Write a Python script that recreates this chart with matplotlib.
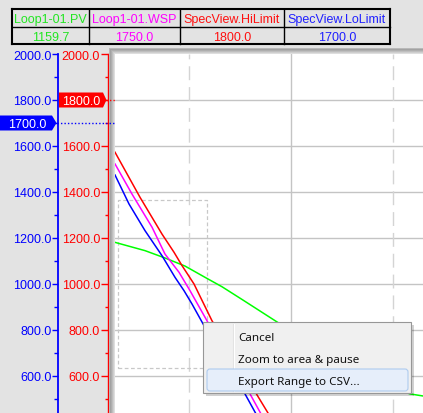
import matplotlib
matplotlib.use("Agg")
import matplotlib.pyplot as plt
from matplotlib.patches import Rectangle, Polygon, FancyBboxPatch
from matplotlib.lines import Line2D
from matplotlib.ticker import MultipleLocator, FormatStrFormatter
from matplotlib.transforms import IdentityTransform, blended_transform_factory

# -----------------------------
# Data
# -----------------------------
tag_names = ["Loop1-01.PV", "Loop1-01.WSP", "SpecView.HiLimit", "SpecView.LoLimit"]
tag_values = [1159.7, 1750.0, 1800.0, 1700.0]
tag_colors = ["#22e622", "#ff00ff", "#ff1010", "#2020ff"]

# time in seconds from left edge of the trend
pv_t = [0, 30, 50, 70, 90, 107, 128, 162, 225, 265, 295, 308]
pv_v = [1181, 1145, 1113, 1078, 1029, 988, 930, 835, 657, 570, 522, 513]

wsp_t = [0, 17, 37, 50, 64, 75, 92, 135, 145, 157]
wsp_v = [1522, 1391, 1247, 1130, 1051, 971, 840, 522, 443, 350]

hi_t = [0, 25, 47, 59, 67, 79, 97, 153, 165]
hi_v = [1573, 1377, 1217, 1138, 1080, 1000, 840, 439, 348]

lo_t = [0, 14, 30, 47, 60, 69, 77, 89, 130, 140, 152]
lo_v = [1474, 1348, 1232, 1123, 1029, 971, 913, 819, 522, 443, 350]

hi_limit = 1800.0
lo_limit = 1700.0

# zoom selection box
sel_t = (3, 92)
sel_v = (635, 1365)

menu_items = ["Cancel", "Zoom to area & pause", "Export Range to CSV..."]

y_min, y_max = 439, 2000
t_max = 308
grid_t = [74, 176, 278]

# -----------------------------
# Setup
# -----------------------------
W, H = 423, 414
BG = "#e3e3e3"
BLUE = "#0000ff"
RED = "#ff0000"
plt.rcParams["font.family"] = ["Liberation Sans", "DejaVu Sans"]

fig = plt.figure(figsize=(W / 100, H / 100), dpi=100, facecolor=BG)
PX = IdentityTransform()


def px(x, y):
    # top-origin pixel -> display coords
    return (x, H - y)


def rect(x0, y0, x1, y1, **kw):
    r = Rectangle(px(x0, y1), x1 - x0, y1 - y0, transform=PX, **kw)
    fig.add_artist(r)
    return r


def hline(x0, x1, y, **kw):
    fig.add_artist(Line2D([x0, x1], [H - y, H - y], transform=PX, **kw))


def vline(x, y0, y1, **kw):
    fig.add_artist(Line2D([x, x], [H - y0, H - y1], transform=PX, **kw))


# -----------------------------
# Trend area
# -----------------------------
ax = fig.add_axes([115 / W, 0, (W - 115) / W, (H - 55) / H])
ax.set_facecolor("white")
ax.set_xlim(0, t_max)
ax.set_ylim(y_min, y_max)
for s in ax.spines.values():
    s.set_visible(False)
ax.set_xticks([])
ax.set_yticks([])

for v in range(600, 2000, 200):
    ax.axhline(v, color="#c4c4c4", lw=1.0, zorder=1)
for i, t in enumerate(grid_t):
    if i % 2:
        ax.axvline(t, color="#c4c4c4", lw=1.0, zorder=1)
    else:
        ax.axvline(t, color="#d4d4d4", lw=1.0, ls=(0, (10, 5)), zorder=1)

ax.add_patch(Rectangle((sel_t[0], sel_v[0]), sel_t[1] - sel_t[0], sel_v[1] - sel_v[0],
                       fill=False, ec="#c8c8c8", lw=0.9, ls=(0, (3, 2)), zorder=2))

ax.plot(pv_t, pv_v, color="#00ff00", lw=1.1, zorder=3)
ax.plot(wsp_t, wsp_v, color="#ff00ff", lw=1.1, zorder=3)
ax.plot(hi_t, hi_v, color=RED, lw=1.1, zorder=3)
ax.plot(lo_t, lo_v, color=BLUE, lw=1.1, zorder=3)

# sunken bevel around the trend
bevel = ["#b8b8b8", "#a2a2a2", "#aeaeae", "#bebebe", "#cecece", "#dedede"]
for i, c in enumerate(bevel):
    rect(109 + i, 49 + i, 110 + i, H, fc=c, ec="none", zorder=1)
    rect(109 + i, 49 + i, W, 50 + i, fc=c, ec="none", zorder=1)

# -----------------------------
# Scales
# -----------------------------
def make_scale(x, color, major_len, minor_len, lw):
    a = fig.add_axes([x / W, 0, 0.0001, (H - 55) / H])
    a.set_ylim(y_min, y_max)
    a.patch.set_visible(False)
    for side in ["top", "right", "bottom"]:
        a.spines[side].set_visible(False)
    a.spines["left"].set_color(color)
    a.spines["left"].set_linewidth(lw)
    a.set_xticks([])
    a.yaxis.set_major_locator(MultipleLocator(200))
    a.yaxis.set_minor_locator(MultipleLocator(100))
    a.yaxis.set_major_formatter(FormatStrFormatter("%.1f"))
    a.tick_params(which="major", length=major_len, width=1, color=color,
                  pad=0.3, labelcolor=color, labelsize=9)
    a.tick_params(which="minor", length=minor_len, width=1, color=color)
    return a


make_scale(58, BLUE, 4.3, 2.9, 1.3)
make_scale(107.5, RED, 5.0, 2.2, 1.0)

# limit markers
yc_hi = ax.transData.transform((0, hi_limit))[1]
yc_lo = ax.transData.transform((0, lo_limit))[1]
blend = blended_transform_factory(PX, ax.transData)
fig.add_artist(Line2D([106, 115], [hi_limit, hi_limit], transform=blend,
                      color=RED, lw=1, ls=(0, (1, 1.5)), zorder=4))
fig.add_artist(Line2D([57, 115], [lo_limit, lo_limit], transform=blend,
                      color=BLUE, lw=1, ls=(0, (1, 1.5)), zorder=4))

fig.add_artist(Polygon([(59, yc_hi - 7.5), (103, yc_hi - 7.5), (106.5, yc_hi),
                        (103, yc_hi + 7.5), (59, yc_hi + 7.5)],
                       transform=PX, fc=RED, ec="none", zorder=5))
fig.text(81, yc_hi, f"{hi_limit:.1f}", transform=PX, color="white", fontsize=9,
         ha="center", va="center_baseline", zorder=6)

fig.add_artist(Polygon([(0, yc_lo - 7.5), (52, yc_lo - 7.5), (56.5, yc_lo),
                        (52, yc_lo + 7.5), (0, yc_lo + 7.5)],
                       transform=PX, fc=BLUE, ec="none", zorder=5))
fig.text(27, yc_lo, f"{lo_limit:.1f}", transform=PX, color="white", fontsize=9,
         ha="center", va="center_baseline", zorder=6)

# -----------------------------
# Value table
# -----------------------------
cols = [12, 89, 180, 284, 390]
t_top, t_mid, t_bot = 10, 27.5, 45
hline(cols[0], cols[-1], t_top, color="black", lw=1.5)
hline(cols[0], cols[-1], t_mid, color="black", lw=1.0)
hline(cols[0], cols[-1], t_bot, color="black", lw=1.5)
for i, c in enumerate(cols):
    vline(c, t_top, t_bot, color="black", lw=1.5 if i in (0, len(cols) - 1) else 1.0)

for i, (name, val, col) in enumerate(zip(tag_names, tag_values, tag_colors)):
    xc = (cols[i] + cols[i + 1]) / 2
    fig.text(xc, H - (t_top + t_mid) / 2, name, transform=PX, color=col,
             fontsize=9, ha="center", va="center_baseline")
    fig.text(xc, H - (t_mid + t_bot) / 2, f"{val:.1f}", transform=PX, color=col,
             fontsize=9, ha="center", va="center_baseline")

# -----------------------------
# Context menu
# -----------------------------
rect(206, 326, 414, 397, fc="#000000", ec="none", alpha=0.18, zorder=9)
rect(203, 323, 411, 394, fc="#f0f0f0", ec="#979797", lw=0.8, zorder=10)
vline(233, 325, 392, color="#e2e2e2", lw=0.8, zorder=11)
vline(234, 325, 392, color="#ffffff", lw=0.8, zorder=11)
hl = FancyBboxPatch(px(207, 392), 201, 22, boxstyle="round,pad=0,rounding_size=3",
                    transform=PX, fc="#e6eefa", ec="#aecbef", lw=0.8, zorder=11)
fig.add_artist(hl)
for item, y in zip(menu_items, [337, 359, 381]):
    fig.text(238, H - y, item, transform=PX, color="#111111", fontsize=8.4,
             family=["Noto Sans", "DejaVu Sans"], ha="left", va="center_baseline", zorder=12)

fig.savefig("out.png", dpi=100, facecolor=BG)
